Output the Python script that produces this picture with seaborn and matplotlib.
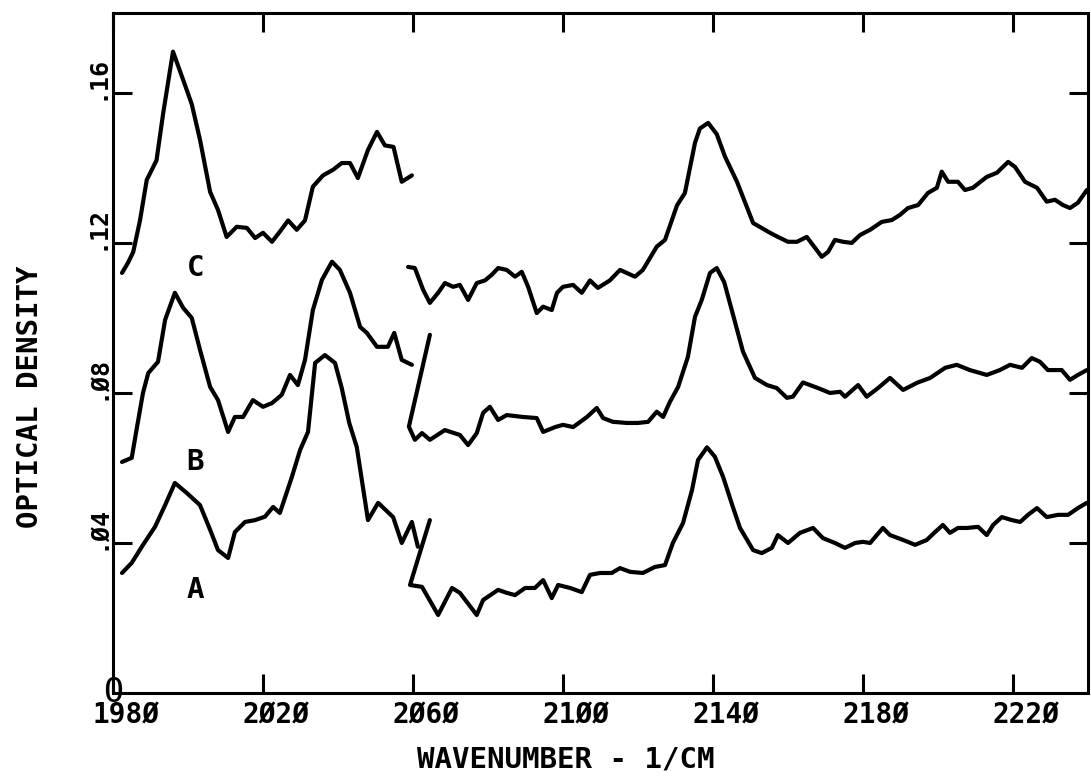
import matplotlib
matplotlib.use("Agg")
import matplotlib.pyplot as plt
import matplotlib.transforms as mtransforms
import seaborn as sns
import pandas as pd

# ---------------- data ----------------
# Curve A (two segments)
A1_x = [1982.4, 1985.0, 1988.0, 1991.2, 1993.9, 1996.5, 1999.7, 2003.2, 2005.9, 2008.0,
        2010.7, 2012.5, 2015.2, 2017.9, 2020.5, 2022.7, 2024.5, 2027.7, 2029.9, 2032.0,
        2033.9, 2036.5, 2039.2, 2041.0, 2043.0, 2045.0, 2048.0, 2050.7, 2054.7, 2057.0,
        2059.7, 2061.3]
A1_y = [0.0320, 0.0347, 0.0395, 0.0443, 0.0501, 0.0560, 0.0533, 0.0501, 0.0435, 0.0381,
        0.0360, 0.0429, 0.0456, 0.0461, 0.0470, 0.0496, 0.0480, 0.0576, 0.0648, 0.0696,
        0.0880, 0.0901, 0.0880, 0.0813, 0.0720, 0.0656, 0.0461, 0.0507, 0.0469, 0.0400,
        0.0456, 0.0390]
A2_x = [2064.5, 2059.2, 2062.4, 2066.7, 2070.4, 2072.5, 2077.0, 2078.7, 2082.7, 2085.0,
        2087.2, 2089.9, 2092.5, 2094.7, 2097.0, 2098.7, 2101.9, 2105.0, 2107.2, 2109.9,
        2113.0, 2115.2, 2117.9, 2121.3, 2124.5, 2127.2, 2129.3, 2132.0, 2134.4, 2136.0,
        2138.4, 2140.5, 2142.7, 2145.3, 2147.2, 2150.7, 2153.0, 2155.7, 2157.3, 2160.0,
        2163.2, 2166.7, 2169.3, 2172.5, 2175.2, 2177.9, 2180.0, 2181.9, 2185.3, 2187.2,
        2190.7, 2193.9, 2197.0, 2199.2, 2201.3, 2203.2, 2205.3, 2207.7, 2210.7, 2213.0,
        2214.7, 2217.0, 2219.7, 2221.9, 2224.0, 2226.4, 2229.0, 2232.0, 2234.7, 2237.3,
        2239.7]
A2_y = [0.0461, 0.0288, 0.0283, 0.0208, 0.0280, 0.0267, 0.0208, 0.0248, 0.0275, 0.0267,
        0.0261, 0.0280, 0.0280, 0.0301, 0.0253, 0.0288, 0.0280, 0.0269, 0.0315, 0.0320,
        0.0320, 0.0333, 0.0323, 0.0320, 0.0336, 0.0341, 0.0400, 0.0453, 0.0541, 0.0621,
        0.0655, 0.0630, 0.0576, 0.0496, 0.0440, 0.0381, 0.0373, 0.0387, 0.0421, 0.0400,
        0.0427, 0.0440, 0.0413, 0.0400, 0.0387, 0.0400, 0.0403, 0.0400, 0.0440, 0.0421,
        0.0408, 0.0395, 0.0408, 0.0429, 0.0448, 0.0427, 0.0440, 0.0440, 0.0443, 0.0421,
        0.0448, 0.0469, 0.0461, 0.0456, 0.0475, 0.0493, 0.0469, 0.0475, 0.0475, 0.0493,
        0.0507]

# Curve B (two segments)
B1_x = [1982.4, 1985.0, 1986.4, 1988.0, 1989.4, 1992.0, 1993.9, 1996.5, 1998.7, 2001.0,
        2003.2, 2005.9, 2008.0, 2010.7, 2012.5, 2014.7, 2017.3, 2020.0, 2022.4, 2025.0,
        2027.2, 2029.3, 2031.2, 2033.3, 2035.7, 2038.4, 2040.5, 2043.2, 2045.9, 2047.7,
        2050.4, 2053.3, 2055.0, 2057.0, 2059.7]
B1_y = [0.0616, 0.0627, 0.0709, 0.0800, 0.0853, 0.0883, 0.0995, 0.1067, 0.1027, 0.1000,
        0.0915, 0.0816, 0.0781, 0.0696, 0.0736, 0.0736, 0.0781, 0.0763, 0.0773, 0.0795,
        0.0848, 0.0821, 0.0888, 0.1021, 0.1101, 0.1150, 0.1128, 0.1067, 0.0976, 0.0960,
        0.0923, 0.0923, 0.0960, 0.0888, 0.0875]
B2_x = [2064.5, 2058.9, 2060.5, 2062.4, 2064.5, 2068.5, 2072.5, 2074.7, 2077.0, 2078.7,
        2080.5, 2082.7, 2085.0, 2089.3, 2093.0, 2094.7, 2097.9, 2100.0, 2102.7, 2106.4,
        2109.0, 2110.7, 2113.3, 2117.0, 2120.0, 2122.7, 2125.0, 2126.7, 2128.5, 2130.7,
        2133.3, 2135.2, 2137.0, 2139.2, 2141.0, 2143.0, 2145.3, 2148.0, 2151.2, 2154.4,
        2157.0, 2159.7, 2161.3, 2164.0, 2168.0, 2171.2, 2173.9, 2175.2, 2178.7, 2181.0,
        2184.0, 2187.2, 2190.7, 2194.4, 2197.9, 2201.9, 2205.0, 2208.5, 2213.0, 2216.5,
        2219.2, 2222.4, 2225.0, 2227.2, 2229.3, 2233.0, 2235.2, 2237.3, 2239.7]
B2_y = [0.0955, 0.0710, 0.0675, 0.0693, 0.0675, 0.0701, 0.0688, 0.0661, 0.0693, 0.0747,
        0.0763, 0.0728, 0.0741, 0.0736, 0.0733, 0.0696, 0.0709, 0.0715, 0.0709, 0.0736,
        0.0760, 0.0733, 0.0723, 0.0720, 0.0720, 0.0723, 0.0750, 0.0736, 0.0776, 0.0816,
        0.0896, 0.1003, 0.1048, 0.1120, 0.1133, 0.1095, 0.1010, 0.0910, 0.0840, 0.0821,
        0.0813, 0.0787, 0.0790, 0.0828, 0.0813, 0.0800, 0.0803, 0.0790, 0.0821, 0.0790,
        0.0813, 0.0840, 0.0808, 0.0827, 0.0840, 0.0867, 0.0875, 0.0861, 0.0848, 0.0861,
        0.0875, 0.0867, 0.0893, 0.0883, 0.0861, 0.0861, 0.0835, 0.0848, 0.0861]

# Curve C (two segments)
C1_x = [1982.4, 1984.0, 1985.4, 1987.2, 1989.0, 1991.6, 1993.4, 1996.0, 1998.7, 2001.0,
        2003.2, 2005.9, 2008.0, 2010.3, 2013.0, 2015.7, 2017.9, 2020.0, 2022.4, 2024.5,
        2026.7, 2029.0, 2031.2, 2033.3, 2036.0, 2038.7, 2041.0, 2043.2, 2045.3, 2048.0,
        2050.4, 2052.5, 2054.8, 2057.0, 2059.7]
C1_y = [0.1120, 0.1147, 0.1176, 0.1260, 0.1368, 0.1420, 0.1547, 0.1710, 0.1635, 0.1570,
        0.1475, 0.1336, 0.1288, 0.1216, 0.1243, 0.1240, 0.1213, 0.1227, 0.1203, 0.1230,
        0.1260, 0.1235, 0.1260, 0.1350, 0.1380, 0.1395, 0.1413, 0.1413, 0.1373, 0.1448,
        0.1496, 0.1460, 0.1456, 0.1363, 0.1380]
C2_x = [2058.7, 2060.5, 2062.7, 2064.5, 2066.7, 2068.5, 2070.7, 2072.5, 2074.7, 2077.0,
        2079.2, 2081.0, 2082.7, 2085.0, 2087.2, 2089.0, 2090.7, 2093.0, 2094.7, 2097.0,
        2098.4, 2100.0, 2102.7, 2105.0, 2107.2, 2109.3, 2112.5, 2115.2, 2119.2, 2121.3,
        2125.0, 2127.2, 2130.4, 2132.5, 2135.2, 2136.5, 2138.7, 2141.0, 2143.2, 2146.4,
        2150.7, 2155.2, 2157.3, 2160.0, 2162.4, 2165.0, 2167.2, 2169.0, 2170.7, 2172.5,
        2174.7, 2177.0, 2179.2, 2181.9, 2185.0, 2187.7, 2189.9, 2192.0, 2194.7, 2197.3,
        2199.7, 2201.0, 2202.7, 2205.3, 2207.2, 2209.3, 2213.0, 2215.7, 2218.7, 2220.5,
        2223.2, 2226.4, 2229.0, 2231.2, 2233.3, 2235.2, 2237.3, 2239.7]
C2_y = [0.1136, 0.1133, 0.1075, 0.1040, 0.1067, 0.1093, 0.1083, 0.1088, 0.1048, 0.1093,
        0.1100, 0.1115, 0.1133, 0.1128, 0.1110, 0.1123, 0.1083, 0.1013, 0.1030, 0.1021,
        0.1067, 0.1083, 0.1088, 0.1067, 0.1100, 0.1080, 0.1100, 0.1128, 0.1110, 0.1128,
        0.1190, 0.1208, 0.1300, 0.1333, 0.1467, 0.1505, 0.1520, 0.1490, 0.1430, 0.1363,
        0.1253, 0.1227, 0.1216, 0.1203, 0.1203, 0.1216, 0.1187, 0.1163, 0.1176, 0.1208,
        0.1203, 0.1200, 0.1221, 0.1235, 0.1256, 0.1261, 0.1275, 0.1293, 0.1301, 0.1333,
        0.1347, 0.1390, 0.1363, 0.1363, 0.1341, 0.1347, 0.1376, 0.1387, 0.1416, 0.1403,
        0.1363, 0.1347, 0.1310, 0.1315, 0.1301, 0.1293, 0.1307, 0.1341]

curve_names = ["C", "B", "A"]
curve_label_x = [2002.0, 2002.0, 2002.0]
curve_label_y = [0.1133, 0.0616, 0.0275]

x_ticks = [1980, 2020, 2060, 2100, 2140, 2180, 2220]
x_tick_labels = ["198Ø", "2Ø2Ø", "2Ø6Ø", "21ØØ", "214Ø", "218Ø", "222Ø"]
y_ticks = [0.04, 0.08, 0.12, 0.16]
y_tick_labels = [".Ø4", ".Ø8", ".12", ".16"]
x_label = "WAVENUMBER - 1/CM"
y_label = "OPTICAL DENSITY"

# ---------------- plot ----------------
sns.set_style("white")
plt.rcParams["font.family"] = ["DejaVu Sans Mono", "DejaVu Sans"]
plt.rcParams["text.color"] = "black"
plt.rcParams["axes.labelcolor"] = "black"
plt.rcParams["xtick.color"] = "black"
plt.rcParams["ytick.color"] = "black"

fig = plt.figure(figsize=(10.91, 7.82), dpi=100)
ax = fig.add_axes([113 / 1091, 1 - 693 / 782, 975 / 1091, 680 / 782])

segments = [(C1_x, C1_y), (C2_x, C2_y), (B1_x, B1_y), (B2_x, B2_y),
            (A1_x, A1_y), (A2_x, A2_y)]
for sx, sy in segments:
    df = pd.DataFrame({"x": sx, "y": sy})
    sns.lineplot(data=df, x="x", y="y", sort=False, estimator=None, color="black",
                 linewidth=3.0, ax=ax, solid_joinstyle="round", solid_capstyle="round")

ax.set_xlim(1980, 2240)
ax.set_ylim(0, 0.1813)

ax.set_xticks(x_ticks)
ax.set_xticklabels(x_tick_labels, fontsize=20, fontweight="bold", color="black")
ax.set_yticks(y_ticks)
ax.set_yticklabels(y_tick_labels, fontsize=18, fontweight="bold", rotation=90,
                   va="bottom", color="black")

ax.tick_params(axis="both", which="major", direction="in", length=14, width=2.2,
               color="black", top=True, right=True, bottom=True, left=True,
               labelcolor="black")
ax.tick_params(axis="x", pad=6)
ax.tick_params(axis="y", pad=3)

for lab in ax.get_xticklabels():
    lab.set_transform(lab.get_transform() +
                      mtransforms.ScaledTranslation(13 / 100, 0, fig.dpi_scale_trans))
for lab in ax.get_yticklabels():
    lab.set_transform(lab.get_transform() +
                      mtransforms.ScaledTranslation(0, -7 / 100, fig.dpi_scale_trans))

for sp in ax.spines.values():
    sp.set_visible(True)
    sp.set_linewidth(2.2)
    sp.set_color("black")

ax.set_xlabel(x_label, fontsize=21, fontweight="bold", color="black")
ax.set_ylabel(y_label, fontsize=21, fontweight="bold", color="black")
ax.xaxis.set_label_coords(0.4646, -0.098)
ax.yaxis.set_label_coords(-0.085, 0.435)
ax.xaxis.label.set_va("center")
ax.yaxis.label.set_va("center")

for name, lx, ly in zip(curve_names, curve_label_x, curve_label_y):
    ax.text(lx, ly, name, fontsize=21, fontweight="bold", ha="center", va="center",
            color="black")

# origin marker "O"
ax.text(1980, 0, "O", fontsize=24, ha="center", va="center", clip_on=False,
        color="black")

fig.savefig("out.png", dpi=100, facecolor="white")
